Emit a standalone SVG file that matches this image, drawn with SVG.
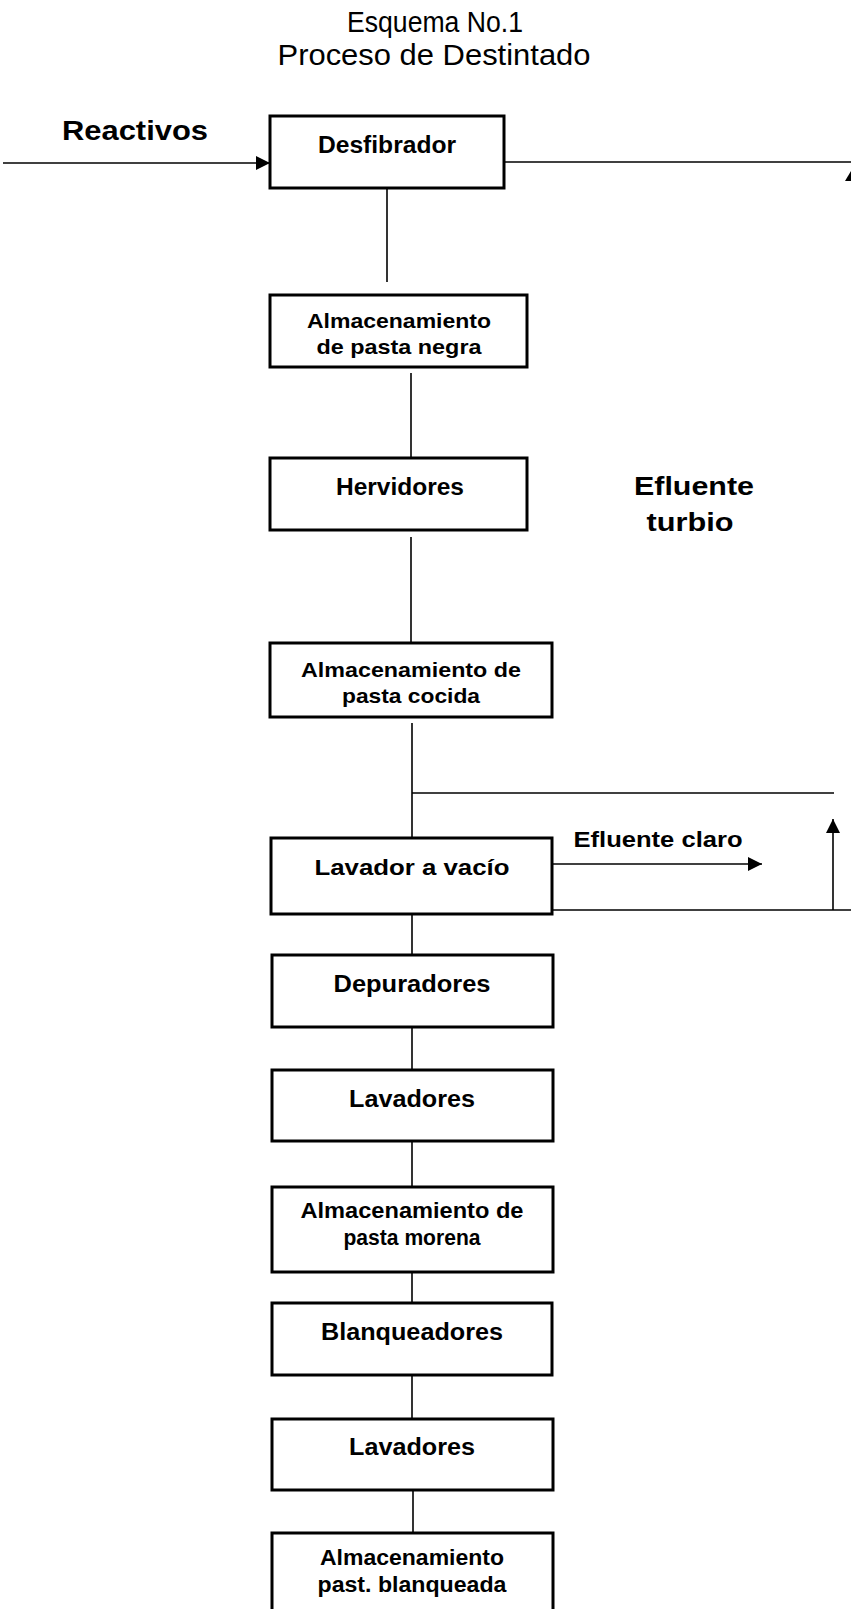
<svg xmlns="http://www.w3.org/2000/svg" width="851" height="1609" viewBox="0 0 851 1609">
<style>
.box{fill:#fff;stroke:#000;stroke-width:3}
.con{fill:none;stroke:#000;stroke-width:1.6}
.t{font-family:"Liberation Sans",Arial,sans-serif;font-weight:bold;fill:#000;text-anchor:middle}
.title{font-family:"Liberation Sans",Arial,sans-serif;font-weight:normal;fill:#000;text-anchor:middle;font-size:30px}
</style>
<defs>
<marker id="ahL" viewBox="0 0 10 10" refX="10" refY="5" markerWidth="14" markerHeight="14" markerUnits="userSpaceOnUse" orient="auto">
<path d="M0,0 L10,5 L0,10 z" fill="#000"/>
</marker>
</defs>
<rect width="851" height="1609" fill="#fff"/>
<g id="title">
<text class="title" x="435" y="32" textLength="176" lengthAdjust="spacingAndGlyphs">Esquema No.1</text>
<text class="title" x="434" y="65" textLength="313" lengthAdjust="spacingAndGlyphs">Proceso de Destintado</text>
</g>
<g id="connectors">
<line class="con" x1="3" y1="163" x2="270" y2="163" marker-end="url(#ahL)"/>
<line class="con" x1="504" y1="162" x2="851" y2="162"/>
<polygon points="851,171 845,181 851,181" fill="#000"/>
<line class="con" x1="387" y1="188" x2="387" y2="282"/>
<line class="con" x1="411" y1="373" x2="411" y2="459"/>
<line class="con" x1="411" y1="537" x2="411" y2="643"/>
<line class="con" x1="412" y1="723" x2="412" y2="838"/>
<line class="con" x1="412" y1="793" x2="834" y2="793"/>
<line class="con" x1="552" y1="864" x2="762" y2="864" marker-end="url(#ahL)"/>
<line class="con" x1="552" y1="910" x2="851" y2="910"/>
<line class="con" x1="833" y1="910" x2="833" y2="819" marker-end="url(#ahL)"/>
<line class="con" x1="412" y1="914" x2="412" y2="955"/>
<line class="con" x1="412" y1="1027" x2="412" y2="1070"/>
<line class="con" x1="412" y1="1141" x2="412" y2="1187"/>
<line class="con" x1="412" y1="1272" x2="412" y2="1303"/>
<line class="con" x1="412" y1="1375" x2="412" y2="1419"/>
<line class="con" x1="413" y1="1490" x2="413" y2="1533"/>
</g>
<g id="labels">
<text class="t" x="135" y="140" font-size="27" textLength="146" lengthAdjust="spacingAndGlyphs">Reactivos</text>
<text class="t" x="694" y="495" font-size="26" textLength="120" lengthAdjust="spacingAndGlyphs">Efluente</text>
<text class="t" x="690" y="531" font-size="26" textLength="87" lengthAdjust="spacingAndGlyphs">turbio</text>
<text class="t" x="658" y="847" font-size="22" textLength="169" lengthAdjust="spacingAndGlyphs">Efluente claro</text>
</g>
<g id="n1">
<rect class="box" x="270" y="116" width="234" height="72"/>
<text class="t" x="387" y="153" font-size="23" textLength="138" lengthAdjust="spacingAndGlyphs">Desfibrador</text>
</g>
<g id="n2">
<rect class="box" x="270" y="295" width="257" height="72"/>
<text class="t" x="399" y="328" font-size="21" textLength="184" lengthAdjust="spacingAndGlyphs">Almacenamiento</text>
<text class="t" x="399" y="354" font-size="21" textLength="165" lengthAdjust="spacingAndGlyphs">de pasta negra</text>
</g>
<g id="n3">
<rect class="box" x="270" y="458" width="257" height="72"/>
<text class="t" x="400" y="495" font-size="23" textLength="128" lengthAdjust="spacingAndGlyphs">Hervidores</text>
</g>
<g id="n4">
<rect class="box" x="270" y="643" width="282" height="74"/>
<text class="t" x="411" y="677" font-size="21" textLength="220" lengthAdjust="spacingAndGlyphs">Almacenamiento de</text>
<text class="t" x="411" y="703" font-size="21" textLength="138" lengthAdjust="spacingAndGlyphs">pasta cocida</text>
</g>
<g id="n5">
<rect class="box" x="271" y="838" width="281" height="76"/>
<text class="t" x="412" y="875" font-size="22" textLength="195" lengthAdjust="spacingAndGlyphs">Lavador a vacío</text>
</g>
<g id="n6">
<rect class="box" x="272" y="955" width="281" height="72"/>
<text class="t" x="412" y="992" font-size="23" textLength="157" lengthAdjust="spacingAndGlyphs">Depuradores</text>
</g>
<g id="n7">
<rect class="box" x="272" y="1070" width="281" height="71"/>
<text class="t" x="412" y="1107" font-size="23" textLength="126" lengthAdjust="spacingAndGlyphs">Lavadores</text>
</g>
<g id="n8">
<rect class="box" x="272" y="1187" width="281" height="85"/>
<text class="t" x="412" y="1218" font-size="22" textLength="223" lengthAdjust="spacingAndGlyphs">Almacenamiento  de</text>
<text class="t" x="412" y="1245" font-size="22" textLength="137" lengthAdjust="spacingAndGlyphs">pasta morena</text>
</g>
<g id="n9">
<rect class="box" x="272" y="1303" width="280" height="72"/>
<text class="t" x="412" y="1340" font-size="23" textLength="182" lengthAdjust="spacingAndGlyphs">Blanqueadores</text>
</g>
<g id="n10">
<rect class="box" x="272" y="1419" width="281" height="71"/>
<text class="t" x="412" y="1455" font-size="23" textLength="126" lengthAdjust="spacingAndGlyphs">Lavadores</text>
</g>
<g id="n11">
<rect class="box" x="272" y="1533" width="281" height="90"/>
<text class="t" x="412" y="1565" font-size="22" textLength="184" lengthAdjust="spacingAndGlyphs">Almacenamiento</text>
<text class="t" x="412" y="1592" font-size="22" textLength="189" lengthAdjust="spacingAndGlyphs">past. blanqueada</text>
</g>
</svg>
